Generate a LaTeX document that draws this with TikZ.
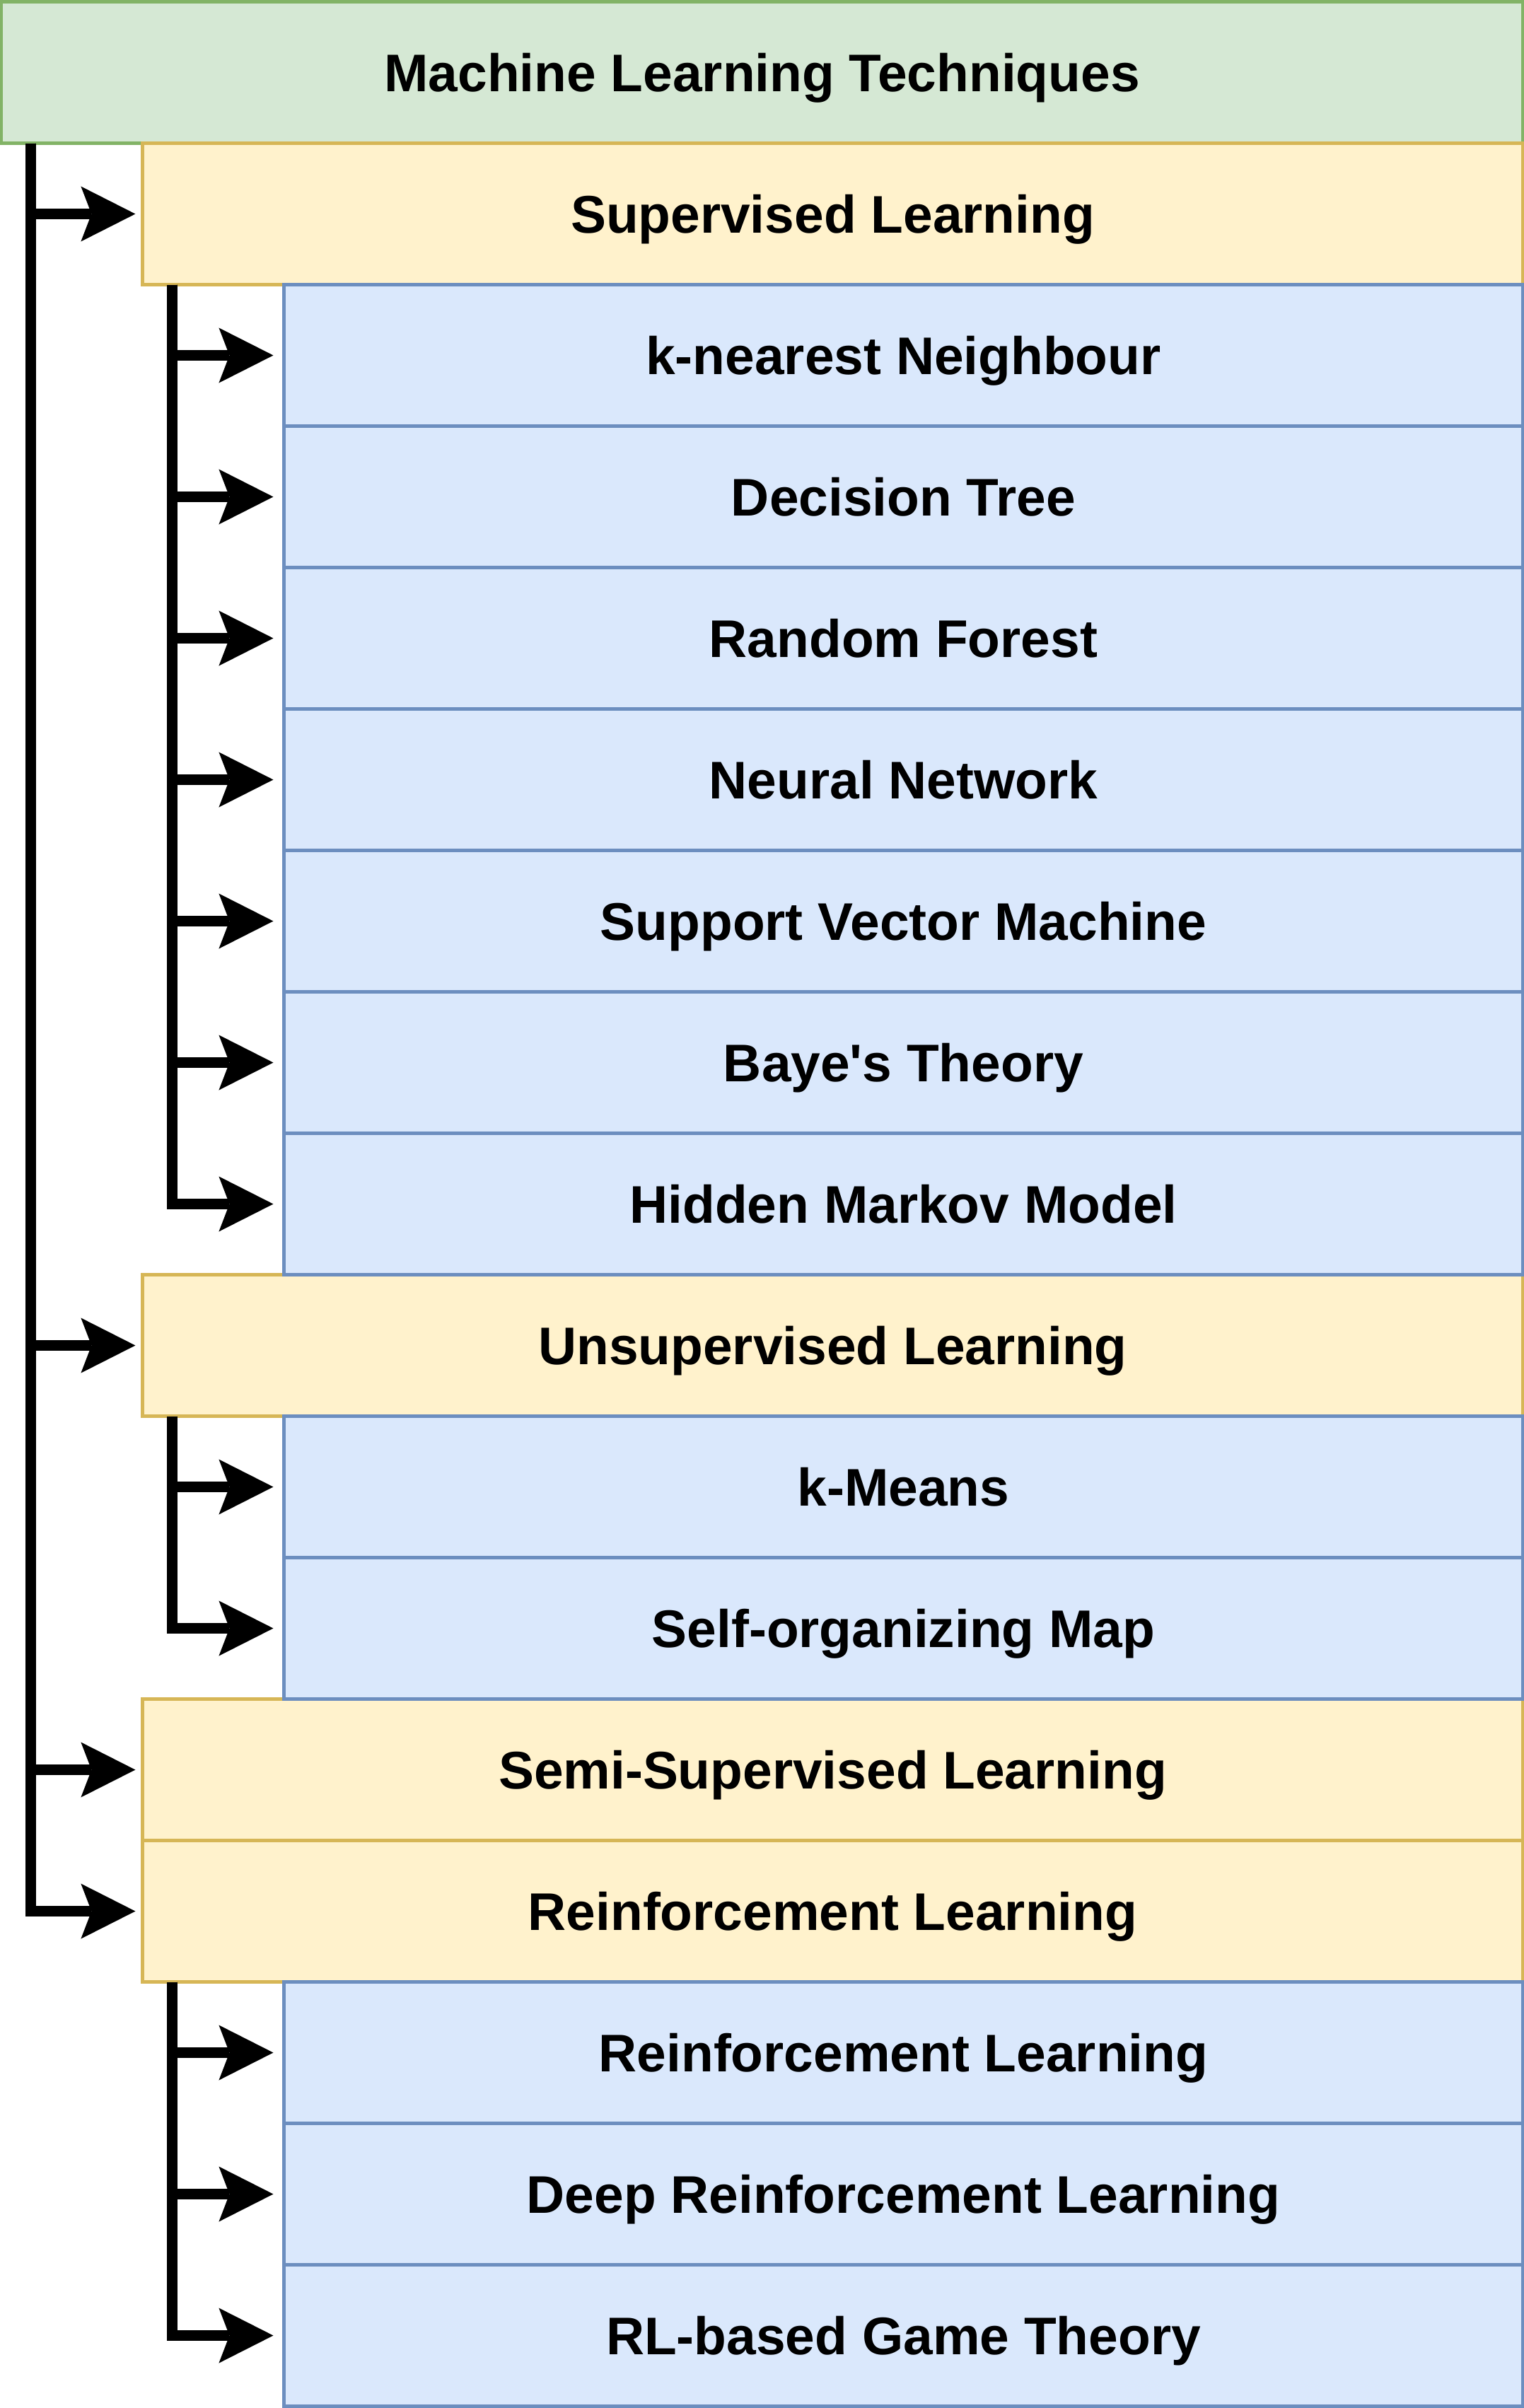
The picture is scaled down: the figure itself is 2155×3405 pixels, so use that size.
\documentclass[tikz,border=0pt]{standalone}
\usepackage{fontspec}
\setmainfont{Liberation Sans}
\usetikzlibrary{arrows.meta}
\definecolor{gfill}{HTML}{D5E8D4}\definecolor{gdraw}{HTML}{82B366}
\definecolor{yfill}{HTML}{FFF2CC}\definecolor{ydraw}{HTML}{D6B656}
\definecolor{bfill}{HTML}{DAE8FC}\definecolor{bdraw}{HTML}{6C8EBF}
\tikzset{
  cell/.style={rectangle, line width=0.05cm, minimum height=2cm, inner sep=0pt,
    font=\fontsize{21.3pt}{25pt}\selectfont\bfseries, text height=19.8pt, text depth=4.5pt},
  topbox/.style={cell, fill=gfill, draw=gdraw, minimum width=21.5cm},
  groupbox/.style={cell, fill=yfill, draw=ydraw, minimum width=19.5cm},
  itembox/.style={cell, fill=bfill, draw=bdraw, minimum width=17.5cm},
  arr/.style={line width=0.15cm,
    -{Stealth[length=0.77cm,width=0.78cm,inset=0.15cm,line width=0pt]}},
  mainarr/.style={arr, shorten >=0.08cm},
  subarr/.style={arr, shorten >=0.13cm},
}
\begin{document}
\begin{tikzpicture}[x=0.01cm, y=-0.01cm]
\useasboundingbox (0,0) rectangle (2155,3405);
% title
\node[topbox] (t) at (1077.5,102.5) {Machine Learning Techniques};
% groups
\node[groupbox] (sl) at (1177.5,302.5) {Supervised Learning};
\node[groupbox] (ul) at (1177.5,1902.5) {Unsupervised Learning};
\node[groupbox] (ssl) at (1177.5,2502.5) {Semi-Supervised Learning};
\node[groupbox] (rl) at (1177.5,2702.5) {Reinforcement Learning};
% items
\node[itembox] (knn) at (1277.5,502.5) {k-nearest Neighbour};
\node[itembox] (dt) at (1277.5,702.5) {Decision Tree};
\node[itembox] (rf) at (1277.5,902.5) {Random Forest};
\node[itembox] (nn) at (1277.5,1102.5) {Neural Network};
\node[itembox] (svm) at (1277.5,1302.5) {Support Vector Machine};
\node[itembox] (bt) at (1277.5,1502.5) {Baye\textquotesingle s Theory};
\node[itembox] (hmm) at (1277.5,1702.5) {Hidden Markov Model};
\node[itembox] (km) at (1277.5,2102.5) {k-Means};
\node[itembox] (som) at (1277.5,2302.5) {Self-organizing Map};
\node[itembox] (rli) at (1277.5,2902.5) {Reinforcement Learning};
\node[itembox] (drl) at (1277.5,3102.5) {Deep Reinforcement Learning};
\node[itembox] (gt) at (1277.5,3302.5) {RL-based Game Theory};
% trunks
\coordinate (m0) at (43.5,202.5);
\coordinate (s1) at (243.5,402.5);
\coordinate (u1) at (243.5,2002.5);
\coordinate (r1) at (243.5,2802.5);
% main connectors
\foreach \n in {sl,ul,ssl,rl} \draw[mainarr] (m0) |- (\n);
% supervised connectors
\foreach \n in {knn,dt,rf,nn,svm,bt,hmm} \draw[subarr] (s1) |- (\n);
% unsupervised connectors
\foreach \n in {km,som} \draw[subarr] (u1) |- (\n);
% reinforcement connectors
\foreach \n in {rli,drl,gt} \draw[subarr] (r1) |- (\n);
\end{tikzpicture}
\end{document}
